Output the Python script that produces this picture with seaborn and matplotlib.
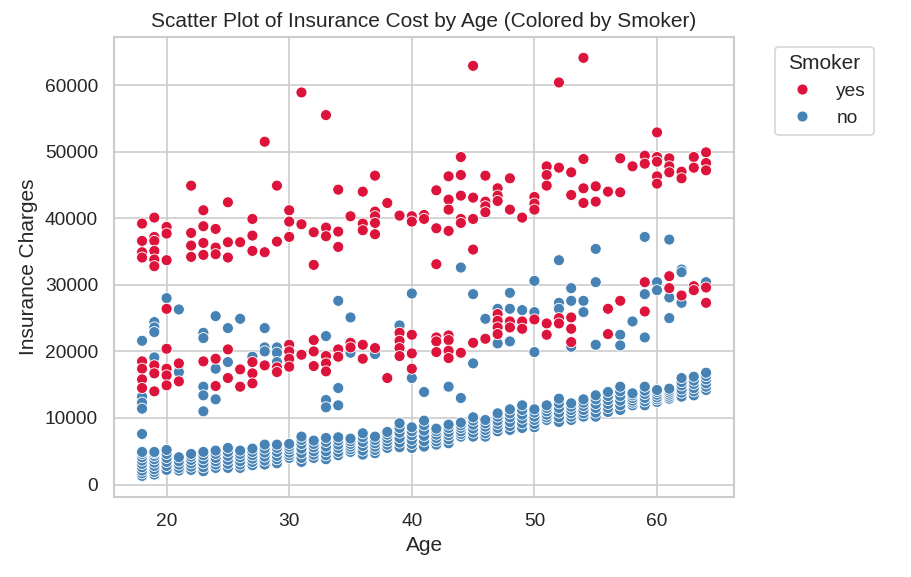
import pandas as pd
import seaborn as sns
import matplotlib.pyplot as plt

# smokers (age, charges)
smoker_ages = [18]*8 + [19]*9 + [20]*8 + [21]*2 + [22]*4 + [23]*5 + [24]*5 + [25]*5 + [26]*3 + [27]*6 \
    + [28]*3 + [29]*4 + [30]*7 + [31]*3 + [32]*5 + [33]*6 + [34]*5 + [35]*3 + [36]*5 + [37]*6 \
    + [38]*2 + [39]*5 + [40]*5 + [41]*2 + [42]*6 + [43]*8 + [44]*6 + [45]*5 + [46]*5 + [47]*7 \
    + [48]*4 + [49]*3 + [50]*4 + [51]*5 + [52]*4 + [53]*5 + [54]*4 + [55]*2 + [56]*3 + [57]*3 \
    + [58]*1 + [59]*4 + [60]*5 + [61]*5 + [62]*3 + [63]*4 + [64]*5
smoker_charges = [
    39200, 36600, 34900, 34100, 18500, 17400, 15800, 14500,
    40100, 37200, 36600, 35100, 33800, 32800, 17900, 16700, 14000,
    38700, 37700, 33700, 26400, 20400, 17400, 16400, 14900,
    18200, 15500,
    44900, 37800, 35900, 34200,
    41200, 38800, 36300, 34500, 18500,
    38400, 35600, 34600, 18900, 14800,
    42400, 36400, 34100, 20300, 16000,
    36400, 17300, 14700,
    39900, 37400, 35100, 18400, 16700, 15200,
    51500, 34900, 17900,
    44900, 36500, 17600, 16900,
    41200, 39500, 37200, 21000, 20000, 18900, 17700,
    58900, 39100, 19500,
    37900, 33000, 21700, 20000, 17800,
    55500, 38600, 37300, 19300, 18200, 17000,
    44300, 38000, 35700, 20300, 19200,
    40300, 21300, 20600,
    44000, 39200, 38200, 21000, 18900,
    46400, 41000, 40300, 39300, 37600, 20500,
    42300, 16000,
    40400, 22800, 21600, 20500, 19300,
    40300, 39500, 22500, 19700, 17400,
    40500, 39900,
    44200, 38500, 33100, 22100, 21500, 19900,
    46300, 42800, 41300, 38100, 22400, 21700, 20100, 19000,
    49200, 46500, 43400, 39900, 39300, 19800,
    62900, 43100, 39900, 35300, 21300,
    46400, 42500, 41800, 40900, 21900,
    44500, 43400, 42600, 25600, 24600, 23600, 22600,
    46000, 41300, 24500, 23600,
    40100, 24500, 23400,
    43200, 42200, 41300, 24800,
    47800, 46500, 44900, 24200, 22500,
    60400, 47600, 25000, 24200,
    46900, 43500, 25100, 23400, 21400,
    64100, 48900, 44500, 42300,
    44800, 42500,
    44000, 26400, 22600,
    49000, 43900, 27600,
    47800,
    49400, 48200, 30400, 26000,
    52900, 49200, 48500, 46300, 45200,
    49000, 47800, 46900, 31300, 29500,
    47000, 46000, 28400,
    49200, 47600, 29800, 29200,
    49900, 48300, 47200, 29600, 27300,
]

# non-smokers above the main band
nonsmoker_out_ages = [18]*5 + [19]*4 + [20] + [21]*2 + [23]*5 + [24]*3 + [25]*2 + [26] + [27] \
    + [28]*3 + [29]*3 + [33]*3 + [34]*3 + [35]*2 + [37] + [39] + [40]*2 + [41] + [43] + [44]*2 \
    + [45]*2 + [46] + [47]*2 + [48]*3 + [49] + [50]*3 + [52]*3 + [53]*3 + [54]*2 + [55]*3 \
    + [57]*2 + [58] + [59]*3 + [60]*2 + [61]*3 + [62]*3 + [64]
nonsmoker_out_charges = [
    7600, 21600, 13200, 12300, 11400,
    24400, 23600, 22900, 19100,
    28000,
    26300, 16900,
    22800, 22000, 14700, 13400, 11000,
    25300, 17400, 12800,
    23500, 18400,
    24900,
    19200,
    23500, 20600, 20000,
    20600, 19800, 18400,
    22300, 12700, 11600,
    27600, 14500, 11900,
    25100, 19800,
    19600,
    23900,
    28700, 16000,
    13900,
    14700,
    32600, 13000,
    28600, 18200,
    24900,
    26400, 21200,
    28800, 26400, 21500,
    26200,
    30600, 25900, 19900,
    33700, 27300, 26400,
    29500, 27600, 20700,
    27600, 25900,
    35400, 30400, 21000,
    22500, 20900,
    24500,
    37200, 28600, 22100,
    30400, 29200,
    36800, 28100, 25000,
    32300, 31900, 27300,
    30400,
]

# main non-smoker band, one list per age
band_ages = [18, 19, 20, 21, 22, 23, 24, 25, 26, 27, 28, 29, 30, 31, 32, 33, 34, 35, 36, 37, 38, 39, 40,
             41, 42, 43, 44, 45, 46, 47, 48, 49, 50, 51, 52, 53, 54, 55, 56, 57, 58, 59, 60, 61, 62, 63, 64]
band_charges = [
    [1300, 1700, 2100, 2600, 3100, 3600, 4100, 4600, 4900],
    [1500, 1900, 2300, 2800, 3300, 3800, 4300, 4700, 4900],
    [2200, 2800, 3400, 4000, 4600, 5200],
    [2100, 2500, 3000, 3500, 4100],
    [2200, 2700, 3200, 3700, 4200, 4600],
    [2000, 2600, 3200, 3800, 4400, 4900],
    [2500, 3000, 3500, 4000, 4600, 5100],
    [2500, 3100, 3700, 4300, 4900, 5500],
    [2500, 3000, 3500, 4100, 4600, 5100],
    [2900, 3400, 3900, 4400, 4900, 5400],
    [3000, 3600, 4200, 4800, 5400, 6000],
    [3200, 3800, 4300, 4900, 5500, 6000],
    [4000, 4400, 4800, 5300, 5700, 6100],
    [3400, 4000, 4700, 5400, 6100, 6700, 7200],
    [4000, 4500, 5000, 5600, 6100, 6600],
    [3800, 4400, 5000, 5700, 6400, 7000],
    [4400, 4900, 5500, 6000, 6600, 7100],
    [4900, 5300, 5700, 6100, 6500, 6900],
    [4500, 5100, 5800, 6400, 7100, 7700],
    [4700, 5200, 5700, 6200, 6700, 7200],
    [5500, 6000, 6500, 7000, 7500, 7900],
    [5600, 6300, 7000, 7800, 8500, 9200],
    [5500, 6100, 6700, 7400, 8000, 8600],
    [5700, 6500, 7300, 8100, 8900, 9600],
    [6000, 6500, 7000, 7500, 8000, 8400],
    [6200, 6800, 7400, 7900, 8500, 9000],
    [7200, 7600, 8000, 8500, 8900, 9300],
    [7200, 7800, 8400, 9000, 9600, 10100],
    [7200, 7700, 8200, 8700, 9200, 9700],
    [8000, 8500, 9100, 9600, 10200, 10700],
    [8200, 8800, 9400, 10100, 10700, 11300],
    [8500, 9200, 9900, 10500, 11200, 11900],
    [8600, 9100, 9700, 10200, 10800, 11300],
    [9700, 10100, 10500, 11000, 11500, 11900],
    [9400, 10100, 10800, 11500, 12200, 12900],
    [9700, 10200, 10700, 11200, 11700, 12200],
    [10200, 10700, 11200, 11800, 12300, 12800],
    [10200, 10800, 11500, 12100, 12800, 13400],
    [10900, 11500, 12100, 12700, 13300, 13900],
    [11200, 11900, 12600, 13300, 14000, 14700],
    [11900, 12300, 12600, 13000, 13400, 13700],
    [11900, 12500, 13000, 13600, 14100, 14700],
    [12400, 12800, 13100, 13500, 13900, 14200],
    [12900, 13200, 13500, 13800, 14100, 14400],
    [13200, 13800, 14300, 14900, 15400, 16000],
    [13400, 14000, 14500, 15100, 15600, 16200],
    [14200, 14700, 15200, 15800, 16300, 16800],
]

rows = []
for a, vals in zip(band_ages, band_charges):
    for c in vals:
        rows.append((a, c, 'no'))
for a, c in zip(nonsmoker_out_ages, nonsmoker_out_charges):
    rows.append((a, c, 'no'))
for a, c in zip(smoker_ages, smoker_charges):
    rows.append((a, c, 'yes'))
df = pd.DataFrame(rows, columns=['age', 'charges', 'smoker'])

sns.set_theme(style='whitegrid')
plt.rcParams['font.family'] = ['Liberation Sans', 'DejaVu Sans']
plt.rcParams['xtick.labelsize'] = 11.5
plt.rcParams['ytick.labelsize'] = 11.5
plt.rcParams['axes.labelsize'] = 12.5
plt.rcParams['axes.titlesize'] = 12.5
plt.rcParams['legend.fontsize'] = 11.5
plt.rcParams['legend.title_fontsize'] = 12.5

fig, ax = plt.subplots(figsize=(911/120, 577/120), dpi=120)
sns.scatterplot(data=df, x='age', y='charges', hue='smoker', hue_order=['yes', 'no'],
                palette={'yes': 'crimson', 'no': 'steelblue'}, s=44, ax=ax)
ax.set_title('Scatter Plot of Insurance Cost by Age (Colored by Smoker)')
ax.set_xlabel('Age')
ax.set_ylabel('Insurance Charges')
ax.legend(title='Smoker', bbox_to_anchor=(1.05, 1), loc='upper left')
fig.subplots_adjust(left=0.125, right=0.806, bottom=0.139, top=0.936)
fig.savefig('out.png', dpi=120)
